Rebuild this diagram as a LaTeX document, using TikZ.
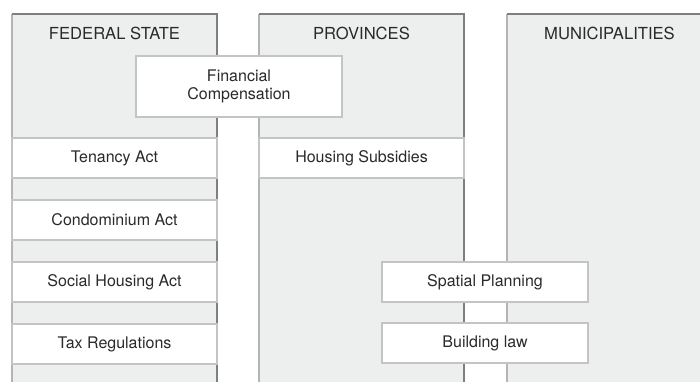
\documentclass[tikz,border=0pt]{standalone}
\usepackage{fontspec}
\setmainfont{TeX Gyre Heros}
\usetikzlibrary{positioning}

\definecolor{colfill}{HTML}{EDEEEE}
\definecolor{coledge}{HTML}{7F7F7F}
\definecolor{coledgelight}{HTML}{B4B4B4}
\definecolor{boxedge}{HTML}{C4C4C4}
\definecolor{textgray}{HTML}{2A2A2A}

\tikzstyle{column} = [fill=colfill, inner sep=0pt, outer sep=0pt, minimum width=205pt, minimum height=372pt, anchor=north west]
\tikzstyle{coltitle} = [text=textgray, font=\fontsize{16.6}{19}\selectfont, anchor=base]
\tikzstyle{lawbox} = [draw=boxedge, line width=1.5pt, fill=white, text=textgray, inner sep=0pt, outer sep=0pt, minimum width=205pt, minimum height=40pt, font=\fontsize{16}{17.5}\selectfont, align=center]
\tikzstyle{topedge} = [draw=coledge, line width=2pt]
\tikzstyle{leftedge} = [draw=coledgelight, line width=1.5pt]

\begin{document}
\begin{tikzpicture}[x=1pt, y=-1pt]
\useasboundingbox (0,0) rectangle (700,381);
\clip (0,0) rectangle (700,381);
% the three levels
\node[column] (fed) at (12,14) {};
\node[column] (prov) at (259,14) {};
\node[column] (muni) at (507,14) {};
\foreach \col in {fed,prov,muni}{
  \draw[leftedge] (\col.south west) -- (\col.north west);
  \draw[topedge] (\col.north west) -- (\col.north east) -- (\col.south east);
}
\node[coltitle] (fedtitle) at ([yshift=-25pt]fed.north) {FEDERAL STATE};
\node[coltitle] (provtitle) at ([yshift=-25pt]prov.north) {PROVINCES};
\node[coltitle] (munititle) at ([yshift=-25pt]muni.north) {MUNICIPALITIES};

% federal laws
\node[lawbox, anchor=north west] (tenancy) at (12,138) {Tenancy Act};
\node[lawbox, below=22pt of tenancy] (condo) {Condominium Act};
\node[lawbox, below=22pt of condo] (social) {Social Housing Act};
\node[lawbox, below=22pt of social] (tax) {Tax Regulations};

% provinces
\node[lawbox, anchor=north west] (subsidies) at (259,138) {Housing Subsidies};
\node[lawbox, anchor=north west, minimum width=206pt] (spatial) at (382,262) {Spatial Planning};
\node[lawbox, below=21pt of spatial, minimum width=206pt] (building) {Building law};

% shared between federal state and provinces
\node[lawbox, anchor=north west, minimum width=206pt, minimum height=61pt] (compensation) at (136,56) {Financial\\Compensation};
\end{tikzpicture}
\end{document}
